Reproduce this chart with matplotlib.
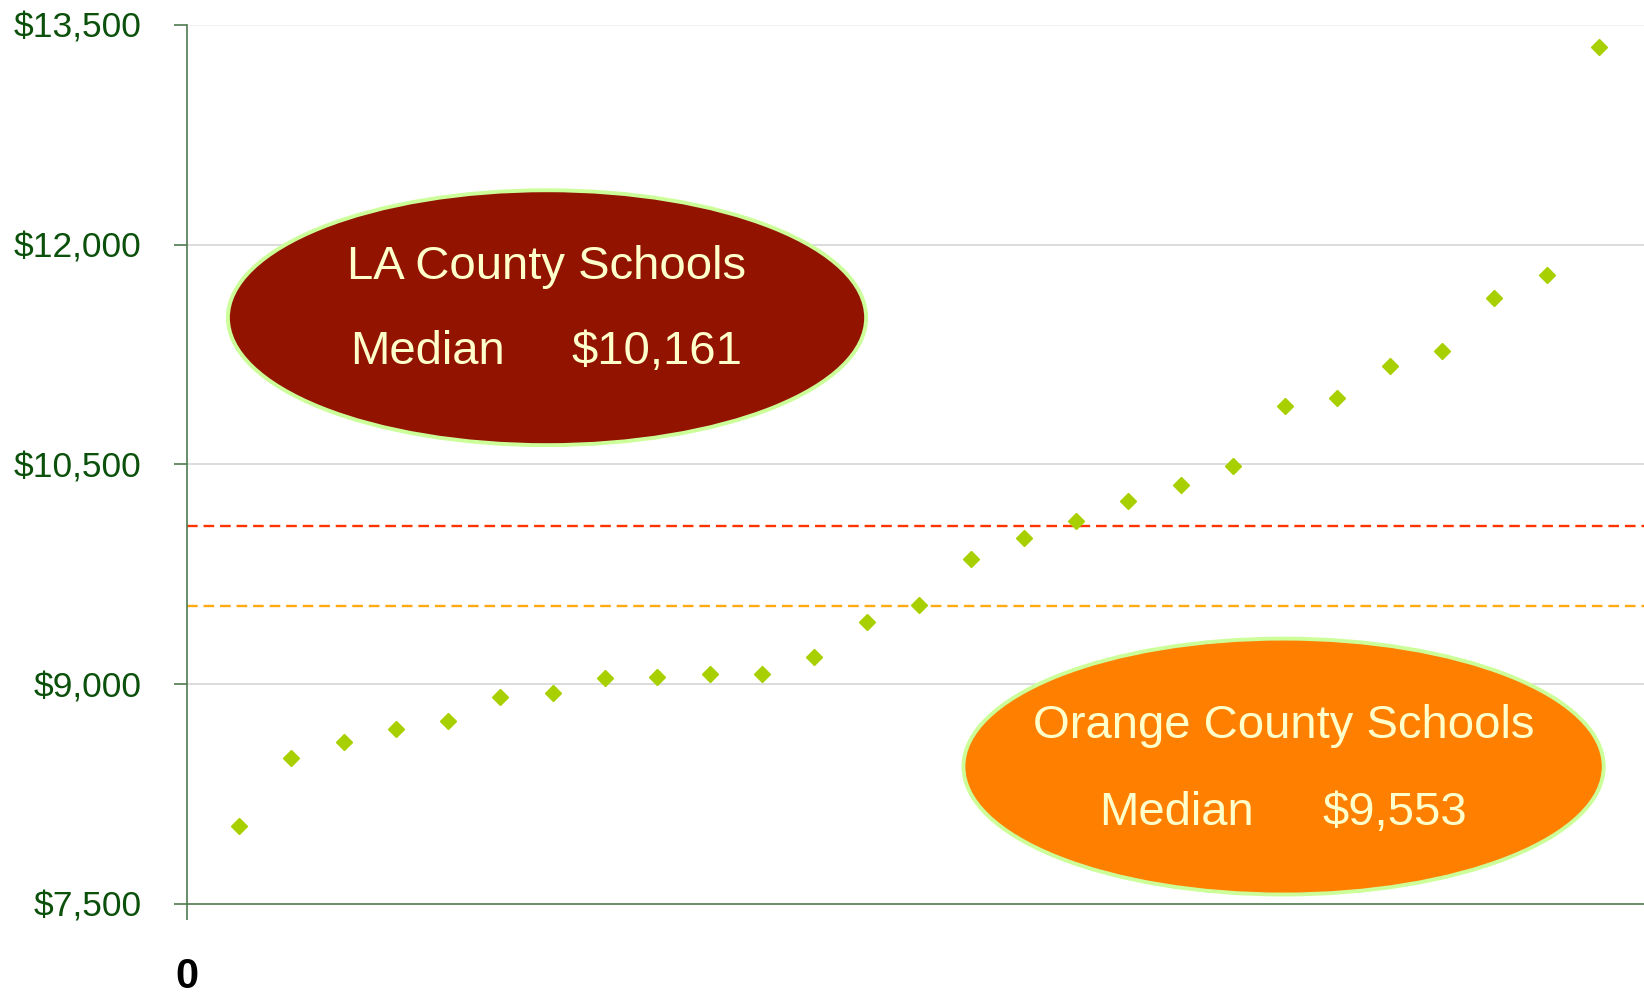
import matplotlib
matplotlib.use("Agg")
import matplotlib.pyplot as plt
from matplotlib.patches import Ellipse
from matplotlib.ticker import FuncFormatter

plt.rcParams['font.family'] = ['Liberation Sans', 'DejaVu Sans']

# per-pupil spending, one point per district, sorted
rank = list(range(1, 28))
spending = [8030, 8495, 8603, 8696, 8746, 8911, 8939, 9040, 9047, 9068,
            9068, 9183, 9426, 9541, 9856, 9999, 10113, 10249, 10357, 10493,
            10901, 10951, 11173, 11273, 11638, 11796, 13350]

la_line = 10078
oc_line = 9532
la_label = ["LA County Schools", "Median", "$10,161"]
oc_label = ["Orange County Schools", "Median", "$9,553"]

yticks = [7500, 9000, 10500, 12000, 13500]

axis_green = '#4E7A4E'
text_green = '#0B500B'
cream = '#FFFFCC'

fig = plt.figure(figsize=(16.44, 9.96), dpi=100)
ax = fig.add_axes([0.1135, 0.0924, 0.8865, 0.8825])

ax.set_xlim(0, 27.86)
ax.set_ylim(7500, 13500)

for y in yticks[1:-1]:
    ax.axhline(y, color='#D9D9D9', lw=1.3, zorder=0)
ax.axhline(13500, color='#F2F2F2', lw=1.3, zorder=0)

ax.axhline(la_line, color='#FF3300', lw=1.7, ls=(0, (4.5, 2.5)), zorder=1)
ax.axhline(oc_line, color='#FFAA11', lw=1.7, ls=(0, (4.5, 2.5)), zorder=1)

ax.plot(rank, spending, 'D', color='#A8D000', markersize=8, zorder=3)

# annotation ellipses
la = Ellipse((6.89, 11502), 12.2, 1740, facecolor='#921400',
             edgecolor='#CCFF99', lw=2.8, zorder=4)
oc = Ellipse((20.97, 8438), 12.24, 1747, facecolor='#FF8000',
             edgecolor='#CCFF99', lw=2.8, zorder=4)
ax.add_patch(la)
ax.add_patch(oc)

fs = 34
ax.text(6.89, 11845, la_label[0], color=cream, fontsize=fs, ha='center', va='center', zorder=5)
ax.text(4.6, 11270, la_label[1], color=cream, fontsize=fs, ha='center', va='center', zorder=5)
ax.text(9.0, 11270, la_label[2], color=cream, fontsize=fs, ha='center', va='center', zorder=5)
ax.text(20.97, 8717, oc_label[0], color=cream, fontsize=fs, ha='center', va='center', zorder=5)
ax.text(18.92, 8123, oc_label[1], color=cream, fontsize=fs, ha='center', va='center', zorder=5)
ax.text(23.1, 8123, oc_label[2], color=cream, fontsize=fs, ha='center', va='center', zorder=5)

ax.set_yticks(yticks)
ax.yaxis.set_major_formatter(FuncFormatter(lambda v, p: "${:,.0f}".format(v)))
ax.tick_params(axis='y', length=9.5, width=1.2, color=axis_green,
               labelcolor=text_green, labelsize=25.5, pad=23)

ax.set_xticks([0])
ax.set_xticklabels(["0"])
ax.tick_params(axis='x', length=11.5, width=1.2, color=axis_green,
               labelsize=30, pad=27)
for lbl in ax.get_xticklabels():
    lbl.set_fontweight('bold')

for side in ['top', 'right']:
    ax.spines[side].set_visible(False)
for side in ['left', 'bottom']:
    ax.spines[side].set_color(axis_green)
    ax.spines[side].set_linewidth(1.2)

fig.savefig('out.png', dpi=100, facecolor='white')
